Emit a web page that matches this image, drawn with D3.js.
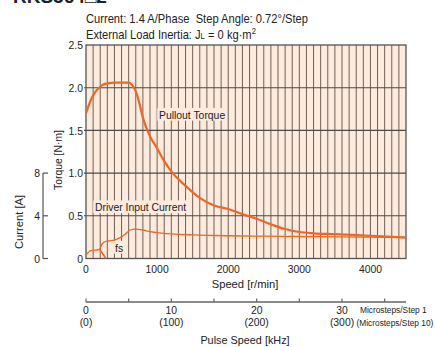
<!DOCTYPE html>
<html>
<head>
<meta charset="utf-8">
<script src="https://cdn.jsdelivr.net/npm/d3@7"></script>
<style>
  html, body { margin: 0; padding: 0; background: #fff; }
  svg { display: block; }
  text { font-family: "Liberation Sans", Arial, Helvetica, sans-serif; fill: #222; white-space: pre; }
</style>
</head>
<body>
<svg id="chart" width="435" height="347"></svg>
<script>
// Speed-torque characteristics for the motor/driver package
const modelName = "RKS564\u25A12";
const conditionLine1 = "Current: 1.4 A/Phase  Step Angle: 0.72\u00B0/Step";
const conditionLine2 = "External Load Inertia: J";

// Pullout torque [N·m] vs speed [r/min]
const torqueSpeed = [0, 50, 100, 150, 200, 250, 300, 400, 500, 600, 650, 700, 750, 800, 900, 1000, 1100, 1200, 1400, 1600, 1800, 2000, 2200, 2400, 2600, 2800, 3000, 3200, 3500, 4000, 4500];
const torqueValues = [1.70, 1.82, 1.91, 1.97, 2.01, 2.04, 2.05, 2.06, 2.06, 2.06, 2.03, 1.96, 1.82, 1.65, 1.43, 1.29, 1.14, 1.02, 0.85, 0.71, 0.62, 0.58, 0.52, 0.465, 0.40, 0.345, 0.31, 0.295, 0.285, 0.265, 0.245];

// Driver input current [A] vs speed [r/min]
const currentSpeed = [0, 30, 60, 120, 170, 200, 225, 260, 310, 400, 480, 550, 620, 690, 800, 900, 1000, 1200, 1500, 2000, 2500, 3000, 3500, 4000, 4500];
const currentValues = [0.33, 0.55, 0.72, 0.78, 0.82, 0.95, 1.35, 1.55, 1.64, 1.73, 1.95, 2.27, 2.67, 2.76, 2.67, 2.51, 2.42, 2.30, 2.21, 2.13, 2.09, 2.06, 2.03, 2.00, 1.97];

// Maximum starting frequency fs (torque [N·m] vs speed [r/min])
const fsSpeed = [190, 235, 280];
const fsValues = [0.11, 0.055, 0];

const speedTicks = [0, 1000, 2000, 3000, 4000];
const torqueTicks = [0, 0.5, 1.0, 1.5, 2.0, 2.5];
const currentTicks = [0, 4, 8];
const pulseTicks = [0, 5, 10, 15, 20, 25, 30, 35];
const pulseLabels = [0, 10, 20, 30];

const svg = d3.select("#chart");
const ORANGE = "#f26522";
const BG = "#fdebdd";
const FS = 11.8;   // base label size
const SX = 0.88;   // condensed look: horizontal squeeze

const plot = { left: 86, right: 406, top: 45, bottom: 258.5 };

const x = d3.scaleLinear().domain([0, 4500]).range([plot.left, plot.right]);
const yT = d3.scaleLinear().domain([0, 2.5]).range([plot.bottom, plot.top]);
const yC = d3.scaleLinear().domain([0, 8]).range([plot.bottom, yT(1.0)]);
const xP = d3.scaleLinear().domain([0, 4500 / 120]).range([plot.left, plot.right]);

const place = (px, py, sx = SX, rot = 0) =>
  `translate(${px},${py})` + (rot ? ` rotate(${rot})` : "") + ` scale(${sx},1)`;

function label(parent, px, py, txt, opts = {}) {
  return parent.append("text")
    .attr("transform", place(px, py, opts.sx ?? SX, opts.rot ?? 0))
    .attr("font-size", opts.size ?? FS)
    .attr("text-anchor", opts.anchor ?? "start")
    .text(txt);
}

// model heading, clipped at the top edge
svg.append("text").attr("x", 13).attr("y", 3)
  .attr("font-size", 19).attr("font-weight", "bold")
  .text(modelName);

// condition lines
label(svg, plot.left, 23, conditionLine1, { size: 12.4, sx: 0.9 });
const l2 = label(svg, plot.left, 38.5, conditionLine2, { size: 12.4, sx: 0.9 });
l2.append("tspan").attr("font-size", 8.5).text("L");
l2.append("tspan").text(" = 0 kg\u00B7m");
l2.append("tspan").attr("font-size", 8.5).attr("dy", -4.5).text("2");

// plot background
svg.append("rect")
  .attr("x", plot.left).attr("y", plot.top)
  .attr("width", plot.right - plot.left).attr("height", plot.bottom - plot.top)
  .attr("fill", BG);

// vertical grid every 100 r/min
svg.append("g").selectAll("line").data(d3.range(100, 4500, 100)).join("line")
  .attr("x1", d => x(d)).attr("x2", d => x(d))
  .attr("y1", plot.top).attr("y2", plot.bottom)
  .attr("stroke", "#6f5f58").attr("stroke-width", 1);

// horizontal grid every 0.5 N·m
svg.append("g").selectAll("line").data(torqueTicks.slice(1, -1)).join("line")
  .attr("x1", plot.left - 2).attr("x2", plot.right)
  .attr("y1", d => yT(d)).attr("y2", d => yT(d))
  .attr("stroke", "#4a4a4a").attr("stroke-width", 1.1);

// frame
svg.append("rect")
  .attr("x", plot.left).attr("y", plot.top)
  .attr("width", plot.right - plot.left).attr("height", plot.bottom - plot.top)
  .attr("fill", "none").attr("stroke", "#555").attr("stroke-width", 1.3);

// curves
const torqueLine = d3.line().x(d => x(d[0])).y(d => yT(d[1])).curve(d3.curveMonotoneX);
const currentLine = d3.line().x(d => x(d[0])).y(d => yC(d[1])).curve(d3.curveMonotoneX);

svg.append("path").datum(currentSpeed.map((s, i) => [s, currentValues[i]]))
  .attr("d", currentLine).attr("fill", "none").attr("stroke", ORANGE).attr("stroke-width", 1.3);

svg.append("path").datum(fsSpeed.map((s, i) => [s, fsValues[i]]))
  .attr("d", d3.line().x(d => x(d[0])).y(d => yT(d[1])))
  .attr("fill", "none").attr("stroke", ORANGE).attr("stroke-width", 1.6);

svg.append("path").datum(torqueSpeed.map((s, i) => [s, torqueValues[i]]))
  .attr("d", torqueLine).attr("fill", "none").attr("stroke", ORANGE).attr("stroke-width", 2.2);

// in-plot curve labels on background patches
function curveLabel(px, py, txt) {
  const g = svg.append("g").attr("transform", place(px, py));
  const t = g.append("text").attr("font-size", FS).text(txt);
  const b = t.node().getBBox();
  g.insert("rect", "text")
    .attr("x", b.x - 2).attr("y", b.y)
    .attr("width", b.width + 4).attr("height", b.height)
    .attr("fill", BG);
}
curveLabel(159, 118.5, "Pullout Torque");
curveLabel(95, 211, "Driver Input Current");
curveLabel(115, 251.5, "fs");

// torque axis labels
svg.append("g").selectAll("text").data(torqueTicks).join("text")
  .attr("transform", d => place(83, yT(d) + 4.2))
  .attr("text-anchor", "end").attr("font-size", FS)
  .text(d => d === 0 ? "0" : d.toFixed(1));

label(svg, 62, 160, "Torque [N\u00B7m]", { rot: -90, anchor: "middle" });

// current axis
const cAxisX = 43;
svg.append("line").attr("x1", cAxisX).attr("x2", cAxisX)
  .attr("y1", yC(8)).attr("y2", yC(0)).attr("stroke", "#555").attr("stroke-width", 1.2);
svg.append("g").selectAll("line").data(currentTicks).join("line")
  .attr("x1", cAxisX).attr("x2", cAxisX + 5)
  .attr("y1", d => yC(d)).attr("y2", d => yC(d))
  .attr("stroke", "#555").attr("stroke-width", 1.2);
svg.append("g").selectAll("text").data(currentTicks).join("text")
  .attr("transform", d => place(40, yC(d) + 4.2))
  .attr("text-anchor", "end").attr("font-size", FS)
  .text(d => d);
label(svg, 23, 222, "Current [A]", { rot: -90, anchor: "middle", sx: 0.95 });

// speed axis labels
svg.append("g").selectAll("text").data(speedTicks).join("text")
  .attr("transform", d => place(x(d), 272.5))
  .attr("text-anchor", "middle").attr("font-size", FS)
  .text(d => d);
label(svg, 245, 288, "Speed [r/min]", { anchor: "middle", sx: 0.95 });

// pulse speed axis
const pAxisY = 302;
svg.append("line").attr("x1", xP(0)).attr("x2", xP(4500 / 120))
  .attr("y1", pAxisY).attr("y2", pAxisY).attr("stroke", "#666").attr("stroke-width", 1.6);
svg.append("g").selectAll("line").data(pulseTicks).join("line")
  .attr("x1", d => xP(d)).attr("x2", d => xP(d))
  .attr("y1", pAxisY).attr("y2", pAxisY - 3.5)
  .attr("stroke", "#666").attr("stroke-width", 1.2);
svg.append("g").selectAll("text").data(pulseLabels).join("text")
  .attr("transform", d => place(xP(d), 313.5))
  .attr("text-anchor", "middle").attr("font-size", FS)
  .text(d => d);
svg.append("g").selectAll("text").data(pulseLabels).join("text")
  .attr("transform", d => place(xP(d), 326))
  .attr("text-anchor", "middle").attr("font-size", FS)
  .text(d => `(${d * 10})`);
label(svg, 360, 313, "Microsteps/Step 1", { size: 9.7, sx: 0.86 });
label(svg, 356.5, 325.5, "(Microsteps/Step 10)", { size: 9.7, sx: 0.86 });
label(svg, 245, 344, "Pulse Speed [kHz]", { anchor: "middle", sx: 0.92 });
</script>
</body>
</html>
